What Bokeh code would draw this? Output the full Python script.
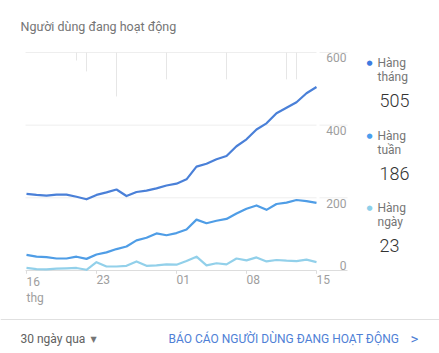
from bokeh.plotting import figure
from bokeh.models import Range1d, Label
from bokeh.core.properties import value
from bokeh.embed import file_html
from bokeh.resources import INLINE

# ---- data ----
days = list(range(30))  # 16 (prev month) .. 15 (this month)
monthly = [211, 208, 206, 209, 209, 203, 196, 208, 215, 223, 205, 216, 220, 226, 234,
           239, 251, 286, 294, 306, 315, 342, 361, 388, 405, 433, 448, 463, 488, 505]
weekly = [43, 38, 37, 33, 33, 38, 32, 44, 50, 59, 66, 83, 90, 102, 97,
          103, 113, 140, 130, 137, 142, 157, 170, 179, 167, 183, 187, 194, 191, 186]
daily = [7, 4, 3, 5, 6, 7, 2, 23, 11, 11, 13, 25, 13, 14, 17,
         16, 26, 38, 14, 20, 17, 33, 28, 36, 25, 29, 27, 26, 30, 23]

x_tick_pos = [0, 7, 15, 22, 29]
x_tick_labels = ["16\nthg", "23", "01", "08", "15"]
y_ticks = [0, 200, 400, 600]
y_tick_labels = ["0", "200", "400", "600"]

# faint marks hanging from the top grid line
mark_days = [5, 6, 9, 14, 20, 26, 27]
mark_bottoms = [578, 548, 479, 526, 526, 526, 526]

series_names = [["Hàng", "tháng"], ["Hàng", "tuần"], ["Hàng", "ngày"]]
series_values = [monthly, weekly, daily]
series_colors = ["#4a80d8", "#4f9de6", "#92d0ea"]
dot_colors = ["#3d7be0", "#4a9eee", "#8dd0ea"]

W, H = 439, 353
p = figure(width=W, height=H, output_backend="svg", toolbar_location=None,
           x_axis_type=None, y_axis_type=None,
           x_range=Range1d(-2.6, 41.3), y_range=Range1d(-228.4, 743.1),
           min_border=0, outline_line_color=None,
           background_fill_color="white", border_fill_color="white")
p.grid.visible = False

# grid lines
grid_main = [v for v in y_ticks if v > 0]
p.segment(x0=[-0.1] * len(grid_main), x1=[29.0] * len(grid_main), y0=grid_main, y1=grid_main,
          line_color="#eeeeee", line_width=1)
p.segment(x0=[29.3] * len(grid_main), x1=[32.1] * len(grid_main), y0=grid_main, y1=grid_main,
          line_color="#eeeeee", line_width=1)
# baseline
p.segment(x0=[-0.1, 29.3], x1=[29.0, 32.1], y0=[0, 0], y1=[0, 0],
          line_color="#dddddd", line_width=1)
# x ticks
p.segment(x0=x_tick_pos, x1=x_tick_pos, y0=[0] * len(x_tick_pos), y1=[-9] * len(x_tick_pos),
          line_color="#dddddd", line_width=1)
# faint top marks
p.segment(x0=mark_days, x1=mark_days, y0=[600] * len(mark_days), y1=mark_bottoms,
          line_color="#e6e6e6", line_width=1)

# series lines
for vals, col in zip(series_values[::-1], series_colors[::-1]):
    p.line(days, vals, line_color=col, line_width=2.2, line_join="round")

# y tick labels
p.text(x=[32.0] * 3, y=[200, 400, 600], text=["200", "400", "600"],
       text_font=value("Roboto"), text_font_size="12px", text_color="#9e9e9e",
       text_align="right", text_baseline="top", y_offset=1)
p.text(x=[32.0], y=[0], text=["0"],
       text_font=value("Roboto"), text_font_size="12px", text_color="#9e9e9e",
       text_align="right", text_baseline="bottom", y_offset=-1)

# x tick labels
p.text(x=x_tick_pos, y=[0] * len(x_tick_pos), text=x_tick_labels,
       text_font=value("Roboto"), text_font_size="12px", text_color="#9e9e9e",
       text_align="left", text_baseline="top", y_offset=4, text_line_height=1.2)

def lab(x, y, text, size, color, font="Roboto", align="left", baseline="middle"):
    p.add_layout(Label(x=x, y=H - y, x_units="screen", y_units="screen", text=text,
                       text_font=font, text_font_size=size, text_color=color,
                       text_align=align, text_baseline=baseline))

# title
lab(20, 26, "Người dùng đang hoạt động", "12.5px", "#757575")

# legend
tops = [62, 135, 207]
for i, (nm, vals) in enumerate(zip(series_names, series_values)):
    t = tops[i]
    p.add_layout(Label(x=369, y=H - t, x_units="screen", y_units="screen", text="●",
                       text_font="DejaVu Sans", text_font_size="7px", text_color=dot_colors[i],
                       text_align="center", text_baseline="middle"))
    lab(377, t, nm[0], "12px", "#757575")
    lab(377, t + 14, nm[1], "12px", "#757575")
    lab(379, t + 38, str(vals[-1]), "18px", "#333333", font="'Roboto Light', Roboto")

# footer
p.segment(x0=[-2.6], x1=[41.3], y0=[(270 - 319) * 2.7523], y1=[(270 - 319) * 2.7523],
          line_color="#e0e0e0", line_width=1)
lab(20, 338, "30 ngày qua", "12px", "#616161")
lab(93, 339, "▼", "8px", "#757575", font="DejaVu Sans", align="center")
lab(168, 338, "BÁO CÁO NGƯỜI DÙNG ĐANG HOẠT ĐỘNG", "12px", "#4f7fd6")
lab(414, 338, ">", "15px", "#4f7fd6", align="center")

open("out.html", "w").write(file_html(p, INLINE))
